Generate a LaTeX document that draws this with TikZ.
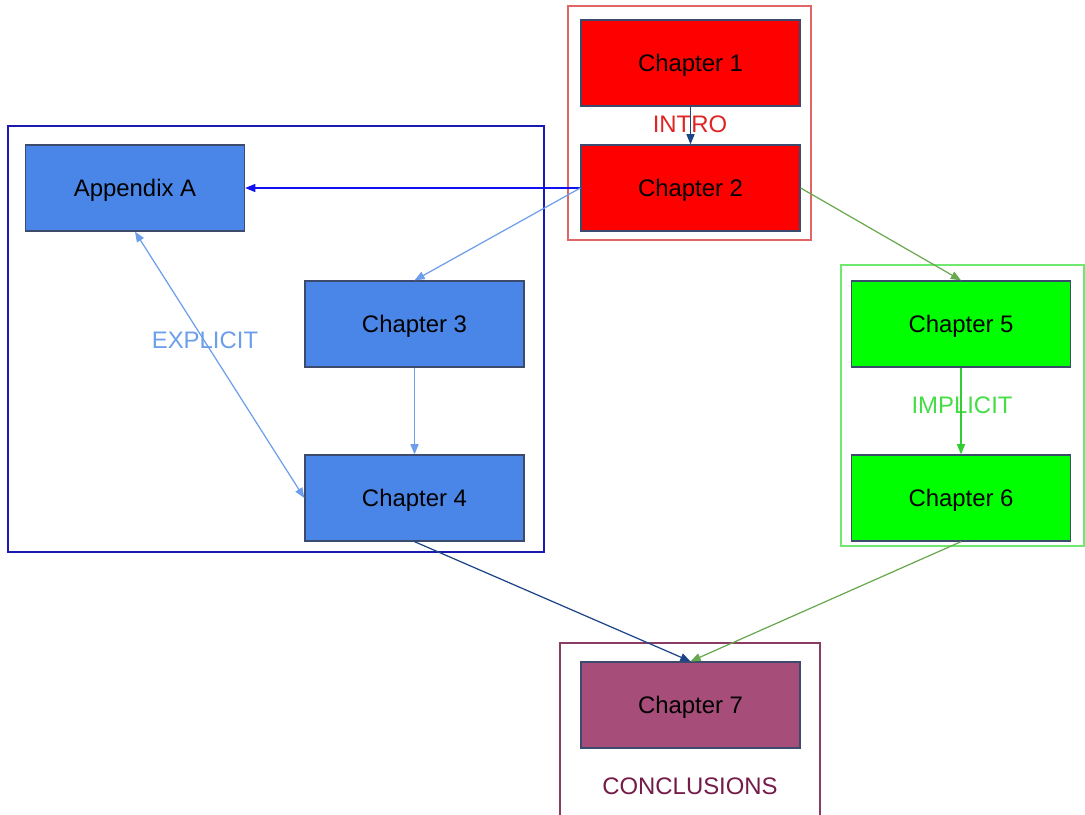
\documentclass[tikz,border=0pt]{standalone}
\usepackage{fontspec}
\setmainfont{Liberation Sans}
\usetikzlibrary{arrows.meta}
\definecolor{introred}{HTML}{FF0000}
\definecolor{chblue}{HTML}{4A86E8}
\definecolor{chgreen}{HTML}{00FF00}
\definecolor{chmaroon}{HTML}{A64D79}
\definecolor{edgegray}{HTML}{3C4A6E}
\definecolor{frred}{HTML}{E06666}
\definecolor{frblue}{HTML}{1A1AB0}
\definecolor{frgreen}{HTML}{6EE86E}
\definecolor{frmaroon}{HTML}{741B47}
\definecolor{lblred}{HTML}{E02424}
\definecolor{lblblue}{HTML}{6D9EEB}
\definecolor{lblgreen}{HTML}{44DD44}
\definecolor{darkarrow}{HTML}{1C4587}
\definecolor{bluearrow}{HTML}{1010F0}
\definecolor{lightarrow}{HTML}{6D9EEB}
\definecolor{greenarrow}{HTML}{6AA84F}
\definecolor{brightarrow}{HTML}{33CC33}
\tikzset{
  chap/.style={draw=edgegray, line width=0.35pt, minimum width=2.19cm, minimum height=0.86cm,
    inner sep=0pt, text depth=0pt, font=\fontsize{6.8}{8}\selectfont, text=black},
  frame/.style={line width=0.45pt, inner sep=0pt},
  lbl/.style={font=\fontsize{6.8}{8}\selectfont, inner sep=0pt},
  conn/.style={line width=0.35pt, -{Triangle[length=2.9pt,width=2.3pt]}},
  biconn/.style={line width=0.35pt, {Triangle[length=2.9pt,width=2.3pt]}-{Triangle[length=2.9pt,width=2.3pt]}},
}
\begin{document}
\begin{tikzpicture}[x=0.01cm, y=-0.01cm]
\useasboundingbox (0,0) rectangle (1085,814);
\clip (0,0) rectangle (1085,814);
% group frames
\node[frame, draw=frred, minimum width=2.43cm, minimum height=2.34cm] (fintro) at (689.5,123) {};
\node[frame, draw=frblue, minimum width=5.36cm, minimum height=4.26cm] (fexpl) at (276,339) {};
\node[frame, draw=frgreen, minimum width=2.43cm, minimum height=2.81cm] (fimpl) at (962.5,405.5) {};
\node[frame, draw=frmaroon!85, line width=0.35pt, minimum width=2.60cm, minimum height=1.90cm] (fconc) at (690,738) {};
% chapters
\node[chap, fill=introred] (c1) at (690.5,63) {Chapter 1};
\node[chap, fill=introred] (c2) at (690.5,188) {Chapter 2};
\node[chap, fill=chblue] (appa) at (135,188) {Appendix A};
\node[chap, fill=chblue] (c3) at (414.5,324) {Chapter 3};
\node[chap, fill=chblue] (c4) at (414.5,498) {Chapter 4};
\node[chap, fill=chgreen] (c5) at (961,324) {Chapter 5};
\node[chap, fill=chgreen] (c6) at (961,498) {Chapter 6};
\node[chap, fill=chmaroon] (c7) at (690.5,705) {Chapter 7};
% group labels
\node[lbl, text=lblred] (lintro) at (690,124) {INTRO};
\node[lbl, text=lblblue] (lexpl) at (205,340) {EXPLICIT};
\node[lbl, text=lblgreen] (limpl) at (962,405) {IMPLICIT};
\node[lbl, text=frmaroon] (lconc) at (690,786) {CONCLUSIONS};
% connectors
\draw[conn, darkarrow] (c1.south) -- (c2.north);
\draw[conn, bluearrow] (c2.west) -- (appa.east);
\draw[conn, lightarrow] (c2.west) -- (c3.north);
\draw[conn, greenarrow] (c2.east) -- (c5.north);
\draw[conn, lightarrow] (c3.south) -- (c4.north);
\draw[biconn, lightarrow] (appa.south) -- (c4.west);
\draw[conn, brightarrow] (c5.south) -- (c6.north);
\draw[conn, darkarrow] (c4.south) -- (c7.north);
\draw[conn, greenarrow] (c6.south) -- (c7.north);
\end{tikzpicture}
\end{document}
